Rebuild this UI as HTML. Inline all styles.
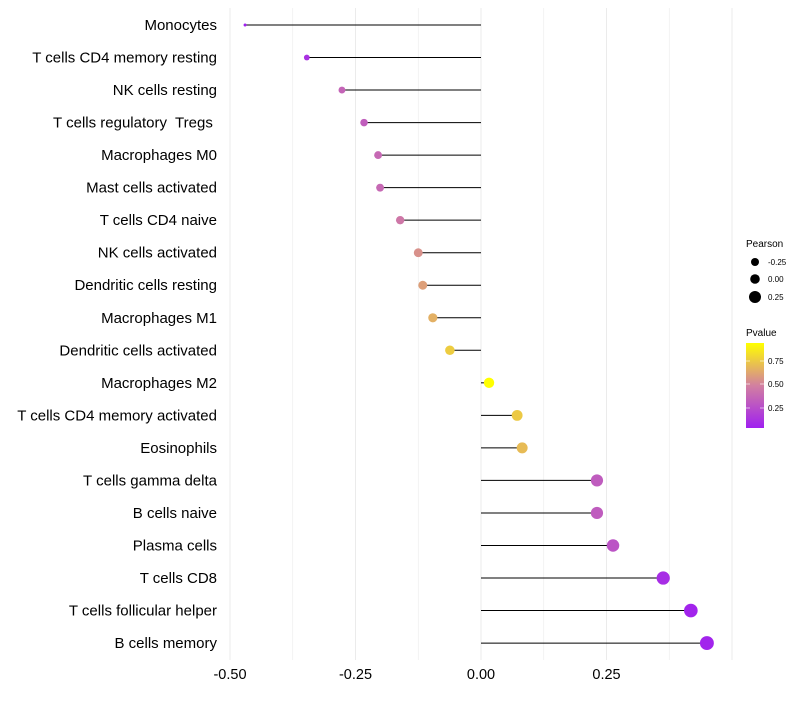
<!DOCTYPE html>
<html><head><meta charset="utf-8"><style>
body{margin:0;background:#fff;font-family:"Liberation Sans",sans-serif}
text{white-space:pre}
</style></head><body>
<svg id="c" width="800" height="700" xmlns="http://www.w3.org/2000/svg" font-family="Liberation Sans, sans-serif"></svg>
<script>
const categories=["Monocytes","T cells CD4 memory resting","NK cells resting","T cells regulatory  Tregs ","Macrophages M0","Mast cells activated","T cells CD4 naive","NK cells activated","Dendritic cells resting","Macrophages M1","Dendritic cells activated","Macrophages M2","T cells CD4 memory activated","Eosinophils","T cells gamma delta","B cells naive","Plasma cells","T cells CD8","T cells follicular helper","B cells memory"];
const pearson=[-0.470,-0.347,-0.277,-0.233,-0.205,-0.201,-0.161,-0.125,-0.116,-0.096,-0.062,0.016,0.072,0.082,0.231,0.231,0.263,0.363,0.418,0.450];
const pvalue=[0.03,0.12,0.36,0.33,0.38,0.38,0.45,0.55,0.6,0.66,0.76,0.95,0.75,0.7,0.32,0.32,0.28,0.1,0.06,0.06];
const xTicks=[-0.5,-0.25,0,0.25];
const xTickLabels=["-0.50","-0.25","0.00","0.25"];
const NS="http://www.w3.org/2000/svg";
const svg=document.getElementById('c');
const x=v=>481+v*502;
const y=i=>25+i*32.53;
function el(t,a,p){const e=document.createElementNS(NS,t);for(const k in a)e.setAttribute(k,a[k]);(p||svg).appendChild(e);return e;}
function lerp(a,b,t){return a.map((v,i)=>Math.round(v+(b[i]-v)*t));}
function col(p){const lo=[160,32,240],mid=[210,128,160],hi=[255,255,0];const t=Math.max(0,Math.min(1,(p-0.04)/0.9));const c=t<0.5?lerp(lo,mid,t*2):lerp(mid,hi,(t-0.5)*2);return `rgb(${c})`;}
const rad=v=>Math.sqrt(2.25+50*(v+0.47));
for(let v=-0.5;v<=0.5;v+=0.125){const g=el('line',{x1:x(v),x2:x(v),y1:8,y2:660,stroke:'#ebebeb','stroke-width':Math.abs((v*8)%2)<0.01?1:0.6});
}
xTicks.forEach((v,i)=>{const t=el('text',{x:x(v),y:679,'text-anchor':'middle','font-size':14.5,fill:'#000'});t.textContent=xTickLabels[i];
});
categories.forEach((c,i)=>{
const t=el('text',{x:217,y:y(i)+5,'text-anchor':'end','font-size':15,fill:'#000'});t.textContent=c;

const l=el('line',{x1:x(0),x2:x(pearson[i]),y1:y(i),y2:y(i),stroke:'#000','stroke-width':1});

const d=el('circle',{cx:x(pearson[i]),cy:y(i),r:rad(pearson[i]),fill:col(pvalue[i])});

});
let t=el('text',{x:746,y:247,'font-size':10});t.textContent='Pearson';

[[-0.25,262],[0,279],[0.25,297]].forEach(([v,yy],i)=>{
const c=el('circle',{cx:755,cy:yy,r:[4,4.8,6][i],fill:'#000'});
const tt=el('text',{x:768,y:yy+3,'font-size':8});tt.textContent=['-0.25','0.00','0.25'][i];});
t=el('text',{x:746,y:336,'font-size':10});t.textContent='Pvalue';

const defs=el('defs',{});const lg=el('linearGradient',{id:'g',x1:0,y1:1,x2:0,y2:0},defs);
[[0,'rgb(160,32,240)'],[0.5,'rgb(210,128,160)'],[1,'rgb(255,255,0)']].forEach(([o,c])=>el('stop',{offset:o,'stop-color':c},lg));
const cb=el('rect',{x:746,y:343,width:18,height:85,fill:'url(#g)'});
[[0.75,361],[0.50,384],[0.25,408]].forEach(([v,yy])=>{
el('line',{x1:746,x2:750,y1:yy,y2:yy,stroke:'#fff','stroke-width':0.6});el('line',{x1:760,x2:764,y1:yy,y2:yy,stroke:'#fff','stroke-width':0.6});
const tt=el('text',{x:768,y:yy+3,'font-size':8});tt.textContent=v.toFixed(2);});
</script>
</body></html>
